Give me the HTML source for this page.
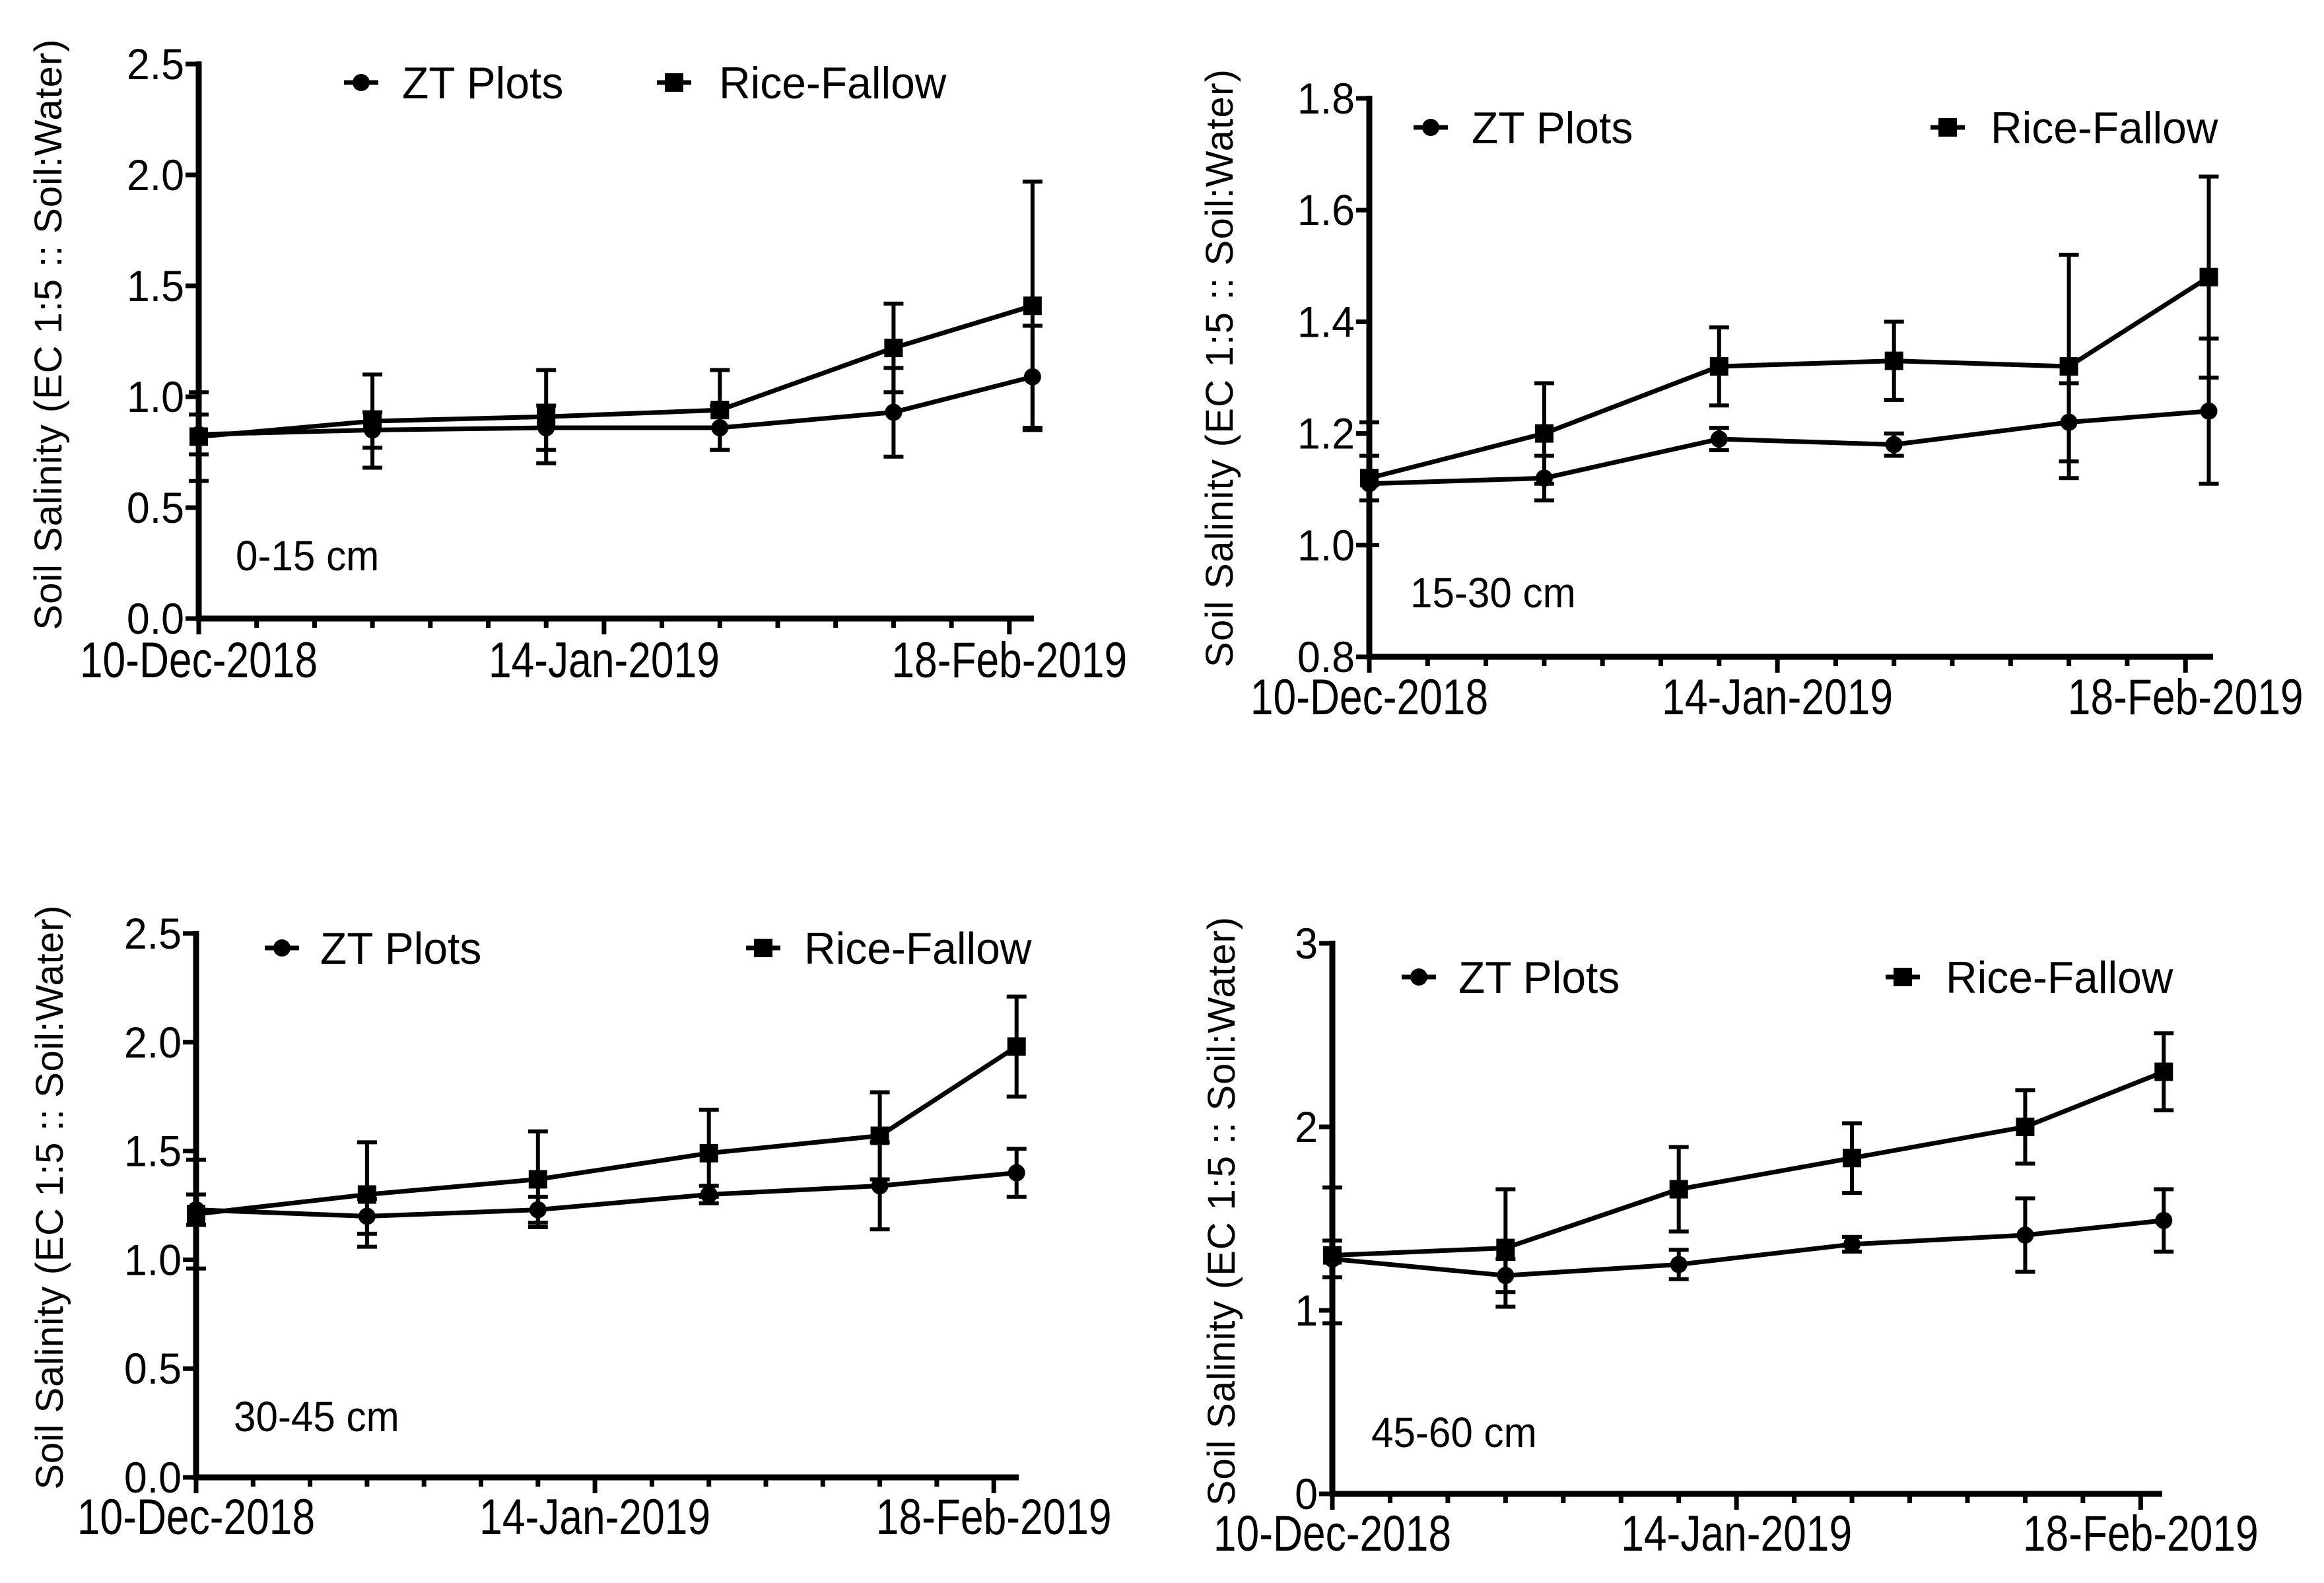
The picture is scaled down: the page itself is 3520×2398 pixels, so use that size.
<!DOCTYPE html>
<html><head><meta charset="utf-8"><style>
html,body{margin:0;padding:0;background:#fff;overflow:hidden;}
svg{display:block;font-family:"Liberation Sans",Arial,sans-serif;}
</style></head><body>
<svg id="fig" width="3520" height="2398" viewBox="0 0 3520 2398" xmlns="http://www.w3.org/2000/svg"></svg>
<script>
// ---- data (days after 10-Dec-2018) ----
const days = [0, 15, 30, 45, 60, 72];
const xTickLabels = ["10-Dec-2018", "14-Jan-2019", "18-Feb-2019"];
const xTickDays = [0, 35, 70];
const seriesNames = ["ZT Plots", "Rice-Fallow"];
const depthLabels = ["0-15 cm", "15-30 cm", "30-45 cm", "45-60 cm"];

const zt1 = [0.83, 0.85, 0.86, 0.86, 0.93, 1.09];
const zt1Err = [0.09, 0.08, 0.10, 0.10, 0.20, 0.23];
const rf1 = [0.82, 0.89, 0.91, 0.94, 1.22, 1.41];
const rf1Err = [0.20, 0.21, 0.21, 0.18, 0.20, 0.56];

const zt2 = [1.11, 1.12, 1.19, 1.18, 1.22, 1.24];
const zt2Err = [0.11, 0.04, 0.02, 0.02, 0.07, 0.13];
const rf2 = [1.12, 1.20, 1.32, 1.33, 1.32, 1.48];
const rf2Err = [0.04, 0.09, 0.07, 0.07, 0.20, 0.18];

const zt3 = [1.23, 1.20, 1.23, 1.30, 1.34, 1.40];
const zt3Err = [0.07, 0.08, 0.06, 0.04, 0.20, 0.11];
const rf3 = [1.21, 1.30, 1.37, 1.49, 1.57, 1.98];
const rf3Err = [0.25, 0.24, 0.22, 0.20, 0.20, 0.23];

const zt4 = [1.28, 1.19, 1.25, 1.36, 1.41, 1.49];
const zt4Err = [0.10, 0.09, 0.08, 0.04, 0.20, 0.17];
const rf4 = [1.30, 1.34, 1.66, 1.83, 2.00, 2.30];
const rf4Err = [0.37, 0.32, 0.23, 0.19, 0.20, 0.21];

const yTicks1 = [0, 0.5, 1.0, 1.5, 2.0, 2.5];
const yTicks2 = [0.8, 1.0, 1.2, 1.4, 1.6, 1.8];
const yTicks3 = [0, 0.5, 1.0, 1.5, 2.0, 2.5];
const yTicks4 = [0, 1, 2, 3];

// ---- layout (pixel geometry) ----
const panels = [
 {zt:zt1,ztE:zt1Err,rf:rf1,rfE:rf1Err,yt:yTicks1,dec:1,x0:301,ppd:17.54,yTopPx:97,yBotPx:937,xEnd:1566,xLabY:1026,
  lg:[547,125,609,1021,1089],annot:[357,864],title:[93,507,880]},
 {zt:zt2,ztE:zt2Err,rf:rf2,rfE:rf2Err,yt:yTicks2,dec:1,x0:2074,ppd:17.66,yTopPx:149,yBotPx:995,xEnd:3352,xLabY:1082,
  lg:[2167,193,2229,2950,3015],annot:[2136,920],title:[1867,558,891]},
 {zt:zt3,ztE:zt3Err,rf:rf3,rfE:rf3Err,yt:yTicks3,dec:1,x0:297,ppd:17.26,yTopPx:1414,yBotPx:2238,xEnd:1543,xLabY:2324,
  lg:[427,1436,485,1156,1218],annot:[354,2168],title:[95,1814,870]},
 {zt:zt4,ztE:zt4Err,rf:rf4,rfE:rf4Err,yt:yTicks4,dec:0,x0:2018,ppd:17.49,yTopPx:1429,yBotPx:2263,xEnd:3275,xLabY:2349,
  lg:[2149,1480,2209,2882,2947],annot:[2077,2192],title:[1870,1835,877]}
];
const NS="http://www.w3.org/2000/svg";
const svg=document.getElementById('fig');
function mk(tag,attrs,parent){const e=document.createElementNS(NS,tag);for(const k in attrs)e.setAttribute(k,attrs[k]);(parent||svg).appendChild(e);return e;}
function txt(x,y,s,size,sx,anchor,parent){
  const t=mk('text',{transform:`translate(${x},${y}) scale(${sx},1)`,'font-size':size,'text-anchor':anchor||'start',fill:'#000'},parent);
  t.textContent=s;return t;
}
function marker(kind,x,y,g){
  let m;
  if(kind==='circle'){m=mk('circle',{cx:x,cy:y,r:13,fill:'#000'},g);}
  else{m=mk('rect',{x:x-14,y:y-14,width:28,height:28,fill:'#000'},g);}
  return m;
}
panels.forEach((p,pi)=>{
  const g=mk('g',{});
  
  
  const yMin=p.yt[0], yMax=p.yt[p.yt.length-1];
  const X=d=>p.x0+d*p.ppd;
  const Y=v=>p.yBotPx-(v-yMin)/(yMax-yMin)*(p.yBotPx-p.yTopPx);
  const ax=mk('g',{stroke:'#000','stroke-width':9,fill:'none'},g);
  
  
  mk('line',{x1:p.x0,y1:p.yTopPx-4,x2:p.x0,y2:p.yBotPx+4},ax);
  mk('line',{x1:p.x0-4,y1:p.yBotPx,x2:p.xEnd,y2:p.yBotPx},ax);
  p.yt.forEach(v=>{
    mk('line',{x1:p.x0-20,y1:Y(v),x2:p.x0,y2:Y(v),stroke:'#000','stroke-width':7},g);
    const t=txt(p.x0-22,Y(v)+23,v.toFixed(p.dec),66,0.95,'end',g);
    
    
  });
  for(let d=0; X(d)<=p.xEnd; d+=5){
    const major=xTickDays.indexOf(d)>=0;
    mk('line',{x1:X(d),y1:p.yBotPx,x2:X(d),y2:p.yBotPx+(major?24:14),stroke:'#000','stroke-width':7},g);
  }
  xTickDays.forEach((d,i)=>{
    const t=txt(X(d),p.xLabY,xTickLabels[i],76,0.82,'middle',g);
    
    
  });
  const eb=mk('g',{stroke:'#000','stroke-width':6},g);
  
  
  [[p.zt,p.ztE],[p.rf,p.rfE]].forEach(([vals,errs])=>{
    vals.forEach((v,i)=>{
      const x=X(days[i]),y1=Y(v+errs[i]),y2=Y(Math.max(yMin,v-errs[i]));
      mk('line',{x1:x,y1:y1,x2:x,y2:y2},eb);
      mk('line',{x1:x-15,y1:y1,x2:x+15,y2:y1},eb);
      if(v-errs[i]>=yMin) mk('line',{x1:x-15,y1:y2,x2:x+15,y2:y2},eb);
    });
  });
  [[p.zt,'circle','zt-plots-series'],[p.rf,'square','rice-fallow-series']].forEach(([vals,kind,name])=>{
    const sg=mk('g',{},g);
    
    
    mk('polyline',{points:vals.map((v,i)=>X(days[i])+','+Y(v)).join(' '),fill:'none',stroke:'#000','stroke-width':7,'stroke-linejoin':'round'},sg);
    vals.forEach((v,i)=>{const m=marker(kind,X(days[i]),Y(v),sg);
      
      });
  });
  const lg=mk('g',{},g);
  
  
  const L=p.lg;
  mk('line',{x1:L[0]-26,y1:L[1],x2:L[0]+26,y2:L[1],stroke:'#000','stroke-width':7},lg);
  marker('circle',L[0],L[1],lg);
  txt(L[2],L[1]+24,seriesNames[0],68,0.97,'start',lg);
  mk('line',{x1:L[3]-26,y1:L[1],x2:L[3]+26,y2:L[1],stroke:'#000','stroke-width':7},lg);
  marker('square',L[3],L[1],lg);
  txt(L[4],L[1]+24,seriesNames[1],68,0.97,'start',lg);
  const an=txt(p.annot[0],p.annot[1],depthLabels[pi],64,0.94,'start',g);
  
  
  const yt=mk('text',{transform:`translate(${p.title[0]},${p.title[1]}) rotate(-90)`,'font-size':58,'text-anchor':'middle',textLength:p.title[2]+15,lengthAdjust:'spacing',fill:'#000'},g);
  yt.textContent='Soil Salinity (EC 1:5 :: Soil:Water)';
  
  
});
</script>
</body></html>
